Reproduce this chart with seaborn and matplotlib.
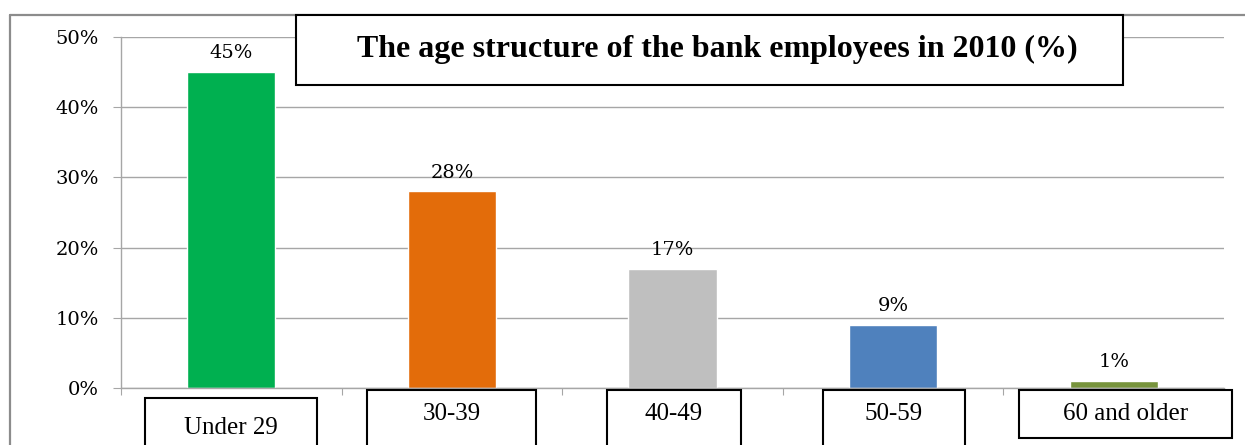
import matplotlib.pyplot as plt
import seaborn as sns
from matplotlib.patches import Rectangle
from matplotlib.lines import Line2D

categories = ["Under 29", "30-39", "40-49", "50-59", "60 and older"]
shares = [45, 28, 17, 9, 1]
colors = ["#00B050", "#E36C0A", "#BFBFBF", "#4F81BD", "#77933C"]
y_ticks = [0, 10, 20, 30, 40, 50]
title = "The age structure of the bank employees in 2010 (%)"

W, H = 1245, 445

def fx(px):
    return px / W

def fy(py):
    return 1 - py / H

sns.set_style("white")
plt.rcParams["font.family"] = ["Liberation Serif", "DejaVu Serif"]
plt.rcParams["text.color"] = "black"
plt.rcParams["xtick.color"] = "black"
plt.rcParams["ytick.color"] = "black"

fig = plt.figure(figsize=(W / 100, H / 100), dpi=100)
ax = fig.add_axes([fx(121), fy(388), fx(1224) - fx(121), fy(37) - fy(388)])

sns.barplot(x=categories, y=shares, hue=categories, palette=colors,
            width=0.4, legend=False, saturation=1, ax=ax)

ax.set_ylim(0, 50)
ax.set_xlim(-0.5, 4.5)
ax.set_yticks(y_ticks)
ax.set_yticklabels([f"{t}%" for t in y_ticks], family="DejaVu Serif", fontsize=14)
ax.yaxis.grid(True, color="#A6A6A6", linewidth=1)
ax.set_axisbelow(True)
ax.tick_params(axis="y", length=6, color="#A6A6A6", labelcolor="black", pad=10, left=True)
ax.set_xticks([i - 0.5 for i in range(len(categories) + 1)])
ax.set_xticklabels([])
ax.tick_params(axis="x", length=5, color="#A6A6A6", direction="out", bottom=True)
for side in ["top", "right"]:
    ax.spines[side].set_visible(False)
for side in ["left", "bottom"]:
    ax.spines[side].set_color("#A6A6A6")
    ax.spines[side].set_linewidth(1)
ax.set_xlabel("")
ax.set_ylabel("")

for cont in ax.containers:
    ax.bar_label(cont, labels=[f"{v:.0f}%" for v in cont.datavalues],
                 padding=7, family="DejaVu Serif", fontsize=14, color="black")

# outer chart frame
fig.add_artist(Line2D([fx(10), fx(10)], [fy(15), 0], transform=fig.transFigure,
                      color="#8C8C8C", linewidth=1.6))
fig.add_artist(Line2D([fx(10), 1], [fy(15), fy(15)], transform=fig.transFigure,
                      color="#8C8C8C", linewidth=1.6))

# title box
fig.add_artist(Rectangle((fx(296), fy(85)), fx(1123) - fx(296), fy(15) - fy(85),
                         transform=fig.transFigure, facecolor="white",
                         edgecolor="black", linewidth=1.5, zorder=5))
fig.text(fx(717), fy(49), title, ha="center", va="center", fontsize=23,
         fontweight="bold", color="black", zorder=6)

# category label boxes
boxes = [(145, 398, 317, 460), (367, 390, 536, 460), (607, 390, 741, 460),
         (823, 390, 965, 460), (1019, 390, 1232, 438)]
text_y = [428, 414, 414, 414, 414]
for (x0, y0, x1, y1), lab, ty in zip(boxes, categories, text_y):
    fig.add_artist(Rectangle((fx(x0), fy(y1)), fx(x1) - fx(x0), fy(y0) - fy(y1),
                             transform=fig.transFigure, facecolor="white",
                             edgecolor="black", linewidth=1.5, zorder=5))
    fig.text(fx((x0 + x1) / 2), fy(ty), lab, ha="center", va="center",
             fontsize=18, color="black", zorder=6)

fig.savefig("out.png", dpi=100)
